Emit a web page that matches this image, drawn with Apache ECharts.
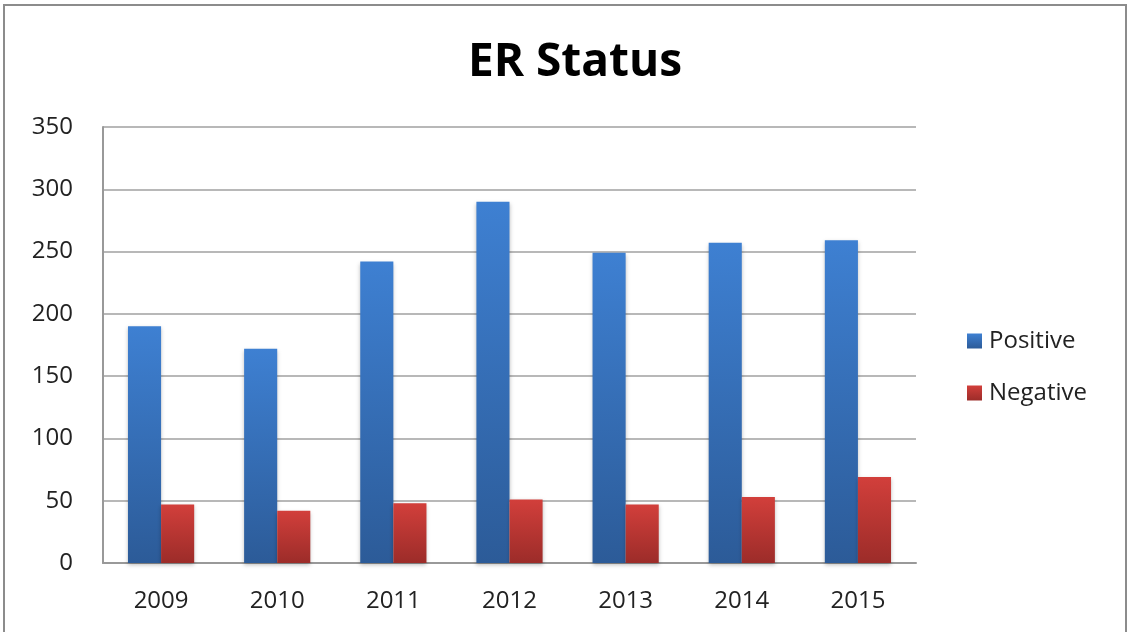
<!DOCTYPE html>
<html><head><meta charset="utf-8">
<script src="https://cdn.jsdelivr.net/npm/echarts@6/dist/echarts.min.js"></script>
<style>html,body{margin:0;padding:0;background:#fff}#c{width:1129px;height:632px}</style>
</head><body><div id="c"></div>
<script>
const categories = ['2009','2010','2011','2012','2013','2014','2015'];
const positive = [190, 172, 242, 290, 249, 257, 259];
const negative = [47, 42, 48, 51, 47, 53, 69];
const yTicks = [0, 50, 100, 150, 200, 250, 300, 350];

const FONT = '"Open Sans", Lato, sans-serif';
const chart = echarts.init(document.getElementById('c'));
function grad(a, b) {
  return new echarts.graphic.LinearGradient(0, 0, 0, 1, [{offset: 0, color: a}, {offset: 1, color: b}]);
}
chart.setOption({
  backgroundColor: '#fff',
  animation: false,
  graphic: [{
    type: 'rect', shape: {x: 4, y: 5, width: 1122, height: 640},
    style: {fill: 'none', stroke: '#8c8c8c', lineWidth: 2}, silent: true
  }],
  title: {
    text: 'ER Status', left: 570, top: 35, textAlign: 'center',
    textStyle: {fontFamily: FONT, fontSize: 46, fontWeight: 'bold', color: '#000'}
  },
  legend: {
    orient: 'vertical', left: 962, top: 324, itemGap: 28,
    itemWidth: 15, itemHeight: 15, icon: 'rect',
    textStyle: {fontFamily: FONT, fontSize: 24, color: '#222', padding: [0, 0, 0, 2]},
    data: ['Positive', 'Negative']
  },
  grid: {left: 103, right: 213, top: 127, bottom: 69, containLabel: false},
  xAxis: {
    type: 'category', data: categories,
    axisLine: {lineStyle: {color: '#999', width: 2}},
    axisTick: {show: false},
    axisLabel: {fontFamily: FONT, fontSize: 24, color: '#222', margin: 26}
  },
  yAxis: {
    type: 'value', min: yTicks[0], max: yTicks[yTicks.length - 1], interval: 50,
    axisLine: {show: true, lineStyle: {color: '#999', width: 2}},
    axisTick: {show: false},
    axisLabel: {fontFamily: FONT, fontSize: 24, color: '#222', margin: 30},
    splitLine: {lineStyle: {color: '#a0a0a0', width: 1.5}}
  },
  series: [
    {name: 'Positive', type: 'bar', data: positive, barGap: '0%', barCategoryGap: '43%',
     itemStyle: {color: grad('#3e80d2', '#2c5b98'), shadowColor: 'rgba(0,0,0,0.25)', shadowBlur: 4, shadowOffsetY: 2}},
    {name: 'Negative', type: 'bar', data: negative,
     itemStyle: {color: grad('#d23f3b', '#9c2c29'), shadowColor: 'rgba(0,0,0,0.25)', shadowBlur: 4, shadowOffsetY: 2}}
  ]
});
</script></body></html>
